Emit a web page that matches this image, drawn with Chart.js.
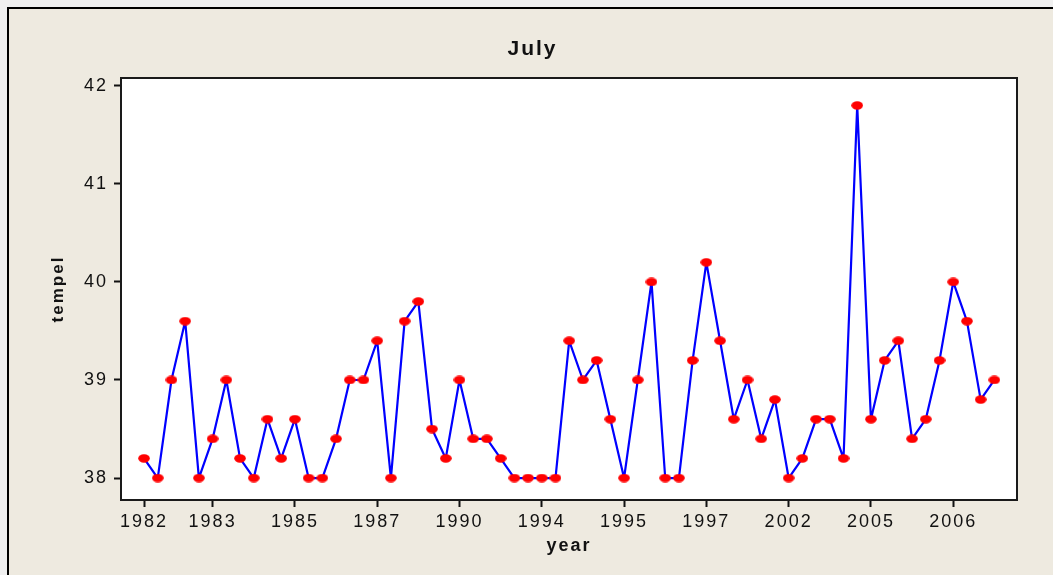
<!DOCTYPE html>
<html>
<head>
<meta charset="utf-8">
<title>July</title>
<script src="https://cdn.jsdelivr.net/npm/chart.js@4"></script>
<style>
  body { margin: 0; background: #f0f0f0; overflow: hidden; }
  .frame {
    position: absolute; left: 7px; top: 7px; width: 1100px; height: 620px;
    border-left: 2px solid #000; border-top: 2px solid #000;
    background: #eeeae0;
  }
  #julyChart { position: absolute; left: 0; top: 0; }
</style>
</head>
<body>
<div class="frame"></div>
<canvas id="julyChart" width="1053" height="575"></canvas>
<script>
// tempel readings, in observation order
const tempel = [
  38.2, 38.0, 39.0, 39.6, 38.0, 38.4, 39.0, 38.2, 38.0, 38.6,
  38.2, 38.6, 38.0, 38.0, 38.4, 39.0, 39.0, 39.4, 38.0, 39.6,
  39.8, 38.5, 38.2, 39.0, 38.4, 38.4, 38.2, 38.0, 38.0, 38.0,
  38.0, 39.4, 39.0, 39.2, 38.6, 38.0, 39.0, 40.0, 38.0, 38.0,
  39.2, 40.2, 39.4, 38.6, 39.0, 38.4, 38.8, 38.0, 38.2, 38.6,
  38.6, 38.2, 41.8, 38.6, 39.2, 39.4, 38.4, 38.6, 39.2, 40.0,
  39.6, 38.8, 39.0
];

// x axis: which observation carries a year stamp
const yearTickIndex = [1, 6, 12, 18, 24, 30, 36, 42, 48, 54, 60];
const yearTickLabels = ["1982", "1983", "1985", "1987", "1990", "1994", "1995", "1997", "2002", "2005", "2006"];
const yTicks = [38, 39, 40, 41, 42];

const points = tempel.map((v, i) => ({ x: i + 1, y: v }));

// red oval marker like the original
const dot = document.createElement("canvas");
dot.width = 12;
dot.height = 9;
const dctx = dot.getContext("2d");
dctx.fillStyle = "#ff0000";
dctx.beginPath();
dctx.ellipse(6, 4.5, 5.8, 4.2, 0, 0, Math.PI * 2);
dctx.fill();

const textFont = "'Liberation Sans', Arial, sans-serif";

const framePlugin = {
  id: "frame",
  beforeLayout(chart) {
    chart.ctx.letterSpacing = "2px";
  },
  beforeDraw(chart) {
    const { ctx, chartArea: a } = chart;
    ctx.letterSpacing = "2px";
    ctx.save();
    ctx.fillStyle = "#ffffff";
    ctx.fillRect(a.left, a.top, a.right - a.left, a.bottom - a.top);
    ctx.restore();
  },
  beforeDatasetsDraw(chart) {
    const { ctx, chartArea: a } = chart;
    ctx.save();
    ctx.strokeStyle = "#1a1a1a";
    ctx.lineWidth = 2;
    ctx.strokeRect(a.left, a.top, a.right - a.left, a.bottom - a.top);
    ctx.restore();
  }
};

new Chart(document.getElementById("julyChart"), {
  type: "line",
  data: {
    datasets: [{
      label: "tempel",
      data: points,
      borderColor: "#0000ff",
      borderWidth: 2.2,
      borderJoinStyle: "round",
      pointStyle: dot,
      pointRadius: 6,
      pointHoverRadius: 6,
      tension: 0,
      fill: false
    }]
  },
  options: {
    responsive: false,
    animation: false,
    events: [],
    layout: { padding: { left: 48, right: 36, top: 0, bottom: 0 } },
    plugins: {
      legend: { display: false },
      tooltip: { enabled: false },
      title: {
        display: true,
        text: "July",
        color: "#111",
        font: { family: textFont, size: 21, weight: "bold" },
        padding: { top: 36.4, bottom: 16.4 }
      }
    },
    scales: {
      x: {
        type: "linear",
        min: -0.68,
        max: 64.65,
        afterBuildTicks: scale => {
          scale.ticks = yearTickIndex.map(v => ({ value: v }));
        },
        afterFit: scale => { scale.height = 75; },
        border: { display: false },
        grid: {
          drawOnChartArea: false,
          drawTicks: true,
          tickLength: 7,
          tickWidth: 2,
          tickColor: "#111"
        },
        ticks: {
          autoSkip: false,
          maxRotation: 0,
          padding: 4,
          color: "#111",
          font: { family: textFont, size: 18 },
          callback: value => yearTickLabels[yearTickIndex.indexOf(value)]
        },
        title: {
          display: true,
          text: "year",
          color: "#111",
          font: { family: textFont, size: 18, weight: "bold" },
          padding: { top: 0, bottom: 18 }
        }
      },
      y: {
        min: 37.776,
        max: 42.08,
        afterBuildTicks: scale => {
          scale.ticks = yTicks.map(v => ({ value: v }));
        },
        afterFit: scale => { scale.width = 121 - 48; },
        border: { display: false },
        grid: {
          drawOnChartArea: false,
          drawTicks: true,
          tickLength: 7,
          tickWidth: 2,
          tickColor: "#111"
        },
        ticks: {
          padding: 6,
          color: "#111",
          font: { family: textFont, size: 18 }
        },
        title: {
          display: true,
          text: "tempel",
          color: "#111",
          font: { family: textFont, size: 17, weight: "bold" },
          padding: { top: 0, bottom: 0 }
        }
      }
    }
  },
  plugins: [framePlugin]
});
</script>
</body>
</html>
